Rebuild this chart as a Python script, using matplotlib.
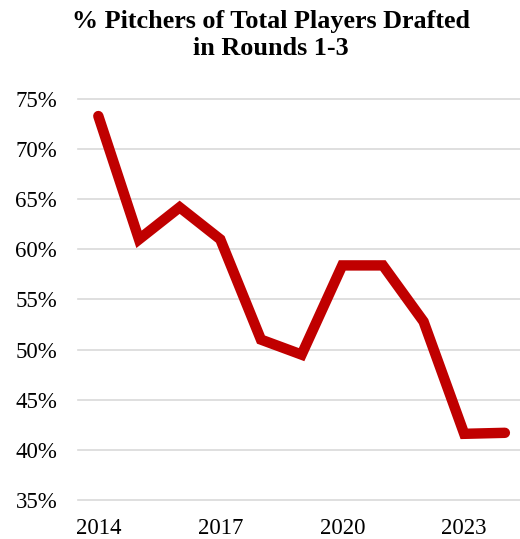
import matplotlib.pyplot as plt
from matplotlib.ticker import FuncFormatter

plt.rcParams['font.family'] = ['Liberation Serif', 'DejaVu Serif']

years = [2014, 2015, 2016, 2017, 2018, 2019, 2020, 2021, 2022, 2023, 2024]
pct_pitchers = [73.3, 61.0, 64.2, 61.0, 51.0, 49.5, 58.4, 58.4, 52.8, 41.6, 41.7]
xtick_years = [2014, 2017, 2020, 2023]

fig = plt.figure(figsize=(5.2, 5.39), dpi=100)
ax = fig.add_axes([0.15, 0.0724, 0.86, 0.7439])

ax.plot(years, pct_pitchers, color='#C00000', linewidth=7.5,
        solid_capstyle='round', solid_joinstyle='miter')

ax.set_xlim(2013.5, 2024.5)
ax.set_ylim(35, 75)
ax.set_yticks(range(35, 76, 5))
ax.yaxis.set_major_formatter(FuncFormatter(lambda v, p: '%d%%' % v))
ax.set_xticks(xtick_years)
ax.grid(axis='y', color='#d9d9d9', linewidth=1.2)
for g in ax.get_ygridlines():
    g.set_clip_on(False)
ax.set_axisbelow(True)
for s in ax.spines.values():
    s.set_visible(False)
ax.tick_params(length=0, labelsize=16.5, colors='black')
ax.tick_params(axis='y', pad=15)
ax.tick_params(axis='x', pad=13)

fig.text(271 / 520, 1 - 35 / 539, '% Pitchers of Total Players Drafted\nin Rounds 1-3',
         ha='center', va='center', fontsize=18.8, fontweight='bold', linespacing=1.2)

fig.savefig('out.png', dpi=100)
